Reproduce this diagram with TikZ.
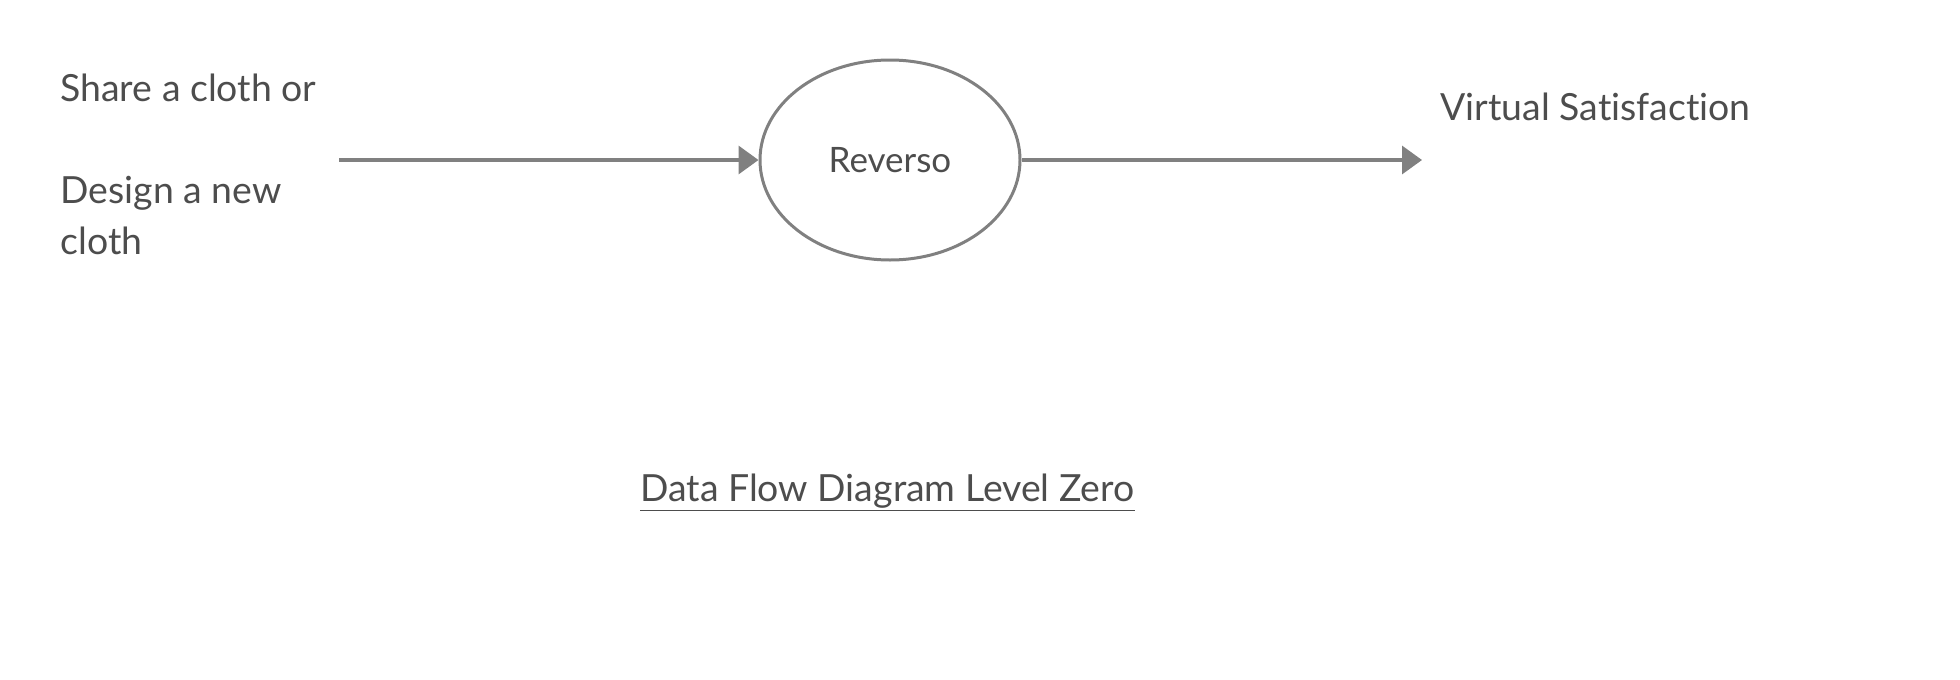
\documentclass[tikz,border=0pt]{standalone}
\usepackage{fontspec}
\setmainfont{Lato}[Ligatures=NoCommon]
\usetikzlibrary{shapes.geometric,arrows.meta}
\definecolor{linegray}{HTML}{808080}
\definecolor{textgray}{HTML}{4D4D4D}

\begin{document}
\begin{tikzpicture}[x=0.5pt, y=0.5pt,
                    main node/.style={ellipse,draw=linegray,line width=1.5pt,minimum width=130pt,minimum height=100pt,
                                      inner sep=0pt,text=textgray,font=\fontsize{17.5}{20}\selectfont},
                    label node/.style={inner sep=0pt,text=textgray,align=left,font=\fontsize{18.7}{25.5}\selectfont},
                    flow/.style={draw=linegray,line width=1.75pt,-{Triangle[length=10pt,width=14pt,fill=linegray]}}]

  \useasboundingbox (0,0) rectangle (1960,-680);

  \node[main node] (reverso) at (890,-160) {Reverso};
  \node[label node, anchor=north west] (user) at (60,-74) {Share a cloth or\\ \\Design a new\\cloth};
  \node[label node, anchor=base west] (result) at (1440,-120) {Virtual Satisfaction};
  \node[label node, anchor=base west] (title) at (640,-501) {\underline{Data Flow Diagram Level Zero}};

  \coordinate (from) at (339,-160);
  \coordinate (to) at (1422,-160);

  \draw[flow] (from) -- (reverso);
  \draw[flow] (reverso) -- (to);

\end{tikzpicture}
\end{document}
